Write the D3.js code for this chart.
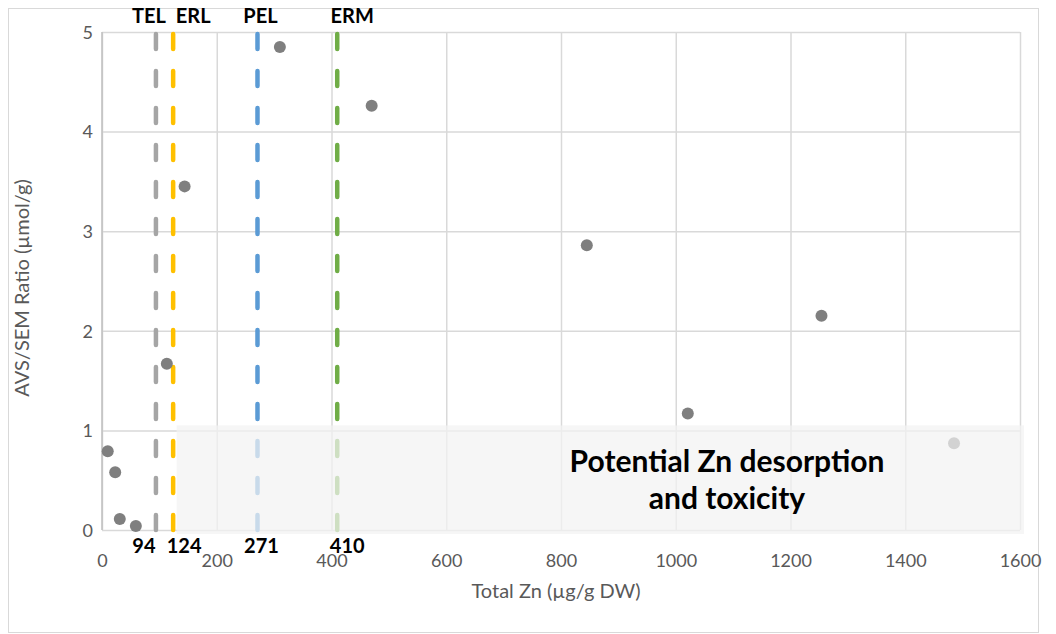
<!DOCTYPE html>
<html>
<head>
<meta charset="utf-8">
<script src="https://cdn.jsdelivr.net/npm/d3@7"></script>
<style>
  html, body { margin: 0; padding: 0; background: #ffffff; }
  svg { display: block; }
</style>
</head>
<body>
<script>
// ---- data ----
const totalZn = [10, 23, 31, 59, 113, 144, 310, 470, 845, 1021, 1254, 1485];
const avsSem  = [0.79, 0.58, 0.11, 0.04, 1.67, 3.45, 4.85, 4.26, 2.86, 1.17, 2.15, 0.87];
const guideNames  = ["TEL", "ERL", "PEL", "ERM"];
const guideValues = [94, 124, 271, 410];
const xTicks = [0, 200, 400, 600, 800, 1000, 1200, 1400, 1600];
const yTicks = [0, 1, 2, 3, 4, 5];
const zoneRange = [130, 1600];      // Zn range of shaded zone
const zoneRatio = [0, 1.05];        // ratio range of shaded zone
const zoneText = ["Potential Zn desorption", "and toxicity"];
const xTitle = "Total Zn (µg/g DW)";
const yTitle = "AVS/SEM Ratio (µmol/g)";

// ---- layout / style ----
const W = 1056, H = 634;
const guideColors = ["#a5a5a5", "#ffc000", "#5b9bd5", "#70ad47"];
const topLabelDx = [-7, 20, 3, 15];
const botLabelDx = [-12, 11, 4, 10];
const font = "Lato, 'Open Sans', sans-serif";

const svg = d3.select("body").append("svg").attr("width", W).attr("height", H);

// outer chart border
svg.append("rect").attr("x", 8.5).attr("y", 8.5).attr("width", 1030).attr("height", 624)
  .attr("fill", "#fff").attr("stroke", "#d9d9d9").attr("stroke-width", 1);

const x = d3.scaleLinear().domain([0, 1600]).range([102, 1020]);
const y = d3.scaleLinear().domain([0, 5]).range([530, 32]);

// gridlines
const gridX = d3.axisBottom(x).tickValues(xTicks).tickSize(-(y(0) - y(5))).tickFormat("");
const gx = svg.append("g").attr("transform", `translate(0,${y(0)})`).call(gridX);
gx.select(".domain").remove();
gx.selectAll("line").attr("stroke", "#d9d9d9").attr("stroke-width", 1.5);

const gridY = d3.axisLeft(y).tickValues(yTicks).tickSize(-(x(1600) - x(0))).tickFormat("");
const gy = svg.append("g").attr("transform", `translate(${x(0)},0)`).call(gridY);
gy.select(".domain").remove();
gy.selectAll("line").attr("stroke", "#d9d9d9").attr("stroke-width", 1.5);

// left axis line
svg.append("line").attr("x1", x(0)).attr("x2", x(0)).attr("y1", y(5)).attr("y2", y(0))
  .attr("stroke", "#bfbfbf").attr("stroke-width", 1.5);

// tick labels
const xAxis = d3.axisBottom(x).tickValues(xTicks).tickSize(0).tickPadding(0).tickFormat(d3.format("d"));
const xa = svg.append("g").attr("transform", `translate(0,${y(0)})`).call(xAxis);
xa.select(".domain").remove();
xa.selectAll("text").attr("dy", null).attr("y", 37).attr("fill", "#595959")
  .style("font-family", font).style("font-size", "18px");

const yAxis = d3.axisLeft(y).tickValues(yTicks).tickSize(0).tickPadding(0).tickFormat(d3.format("d"));
const ya = svg.append("g").attr("transform", `translate(${x(0)},0)`).call(yAxis);
ya.select(".domain").remove();
ya.selectAll("text").attr("x", -9).attr("dy", "0.35em").attr("fill", "#595959")
  .style("font-family", font).style("font-size", "18px");

// guide lines
svg.append("g").selectAll("line").data(guideValues).join("line")
  .attr("x1", d => x(d)).attr("x2", d => x(d))
  .attr("y1", y(5) + 2).attr("y2", y(0))
  .attr("stroke", (d, i) => guideColors[i]).attr("stroke-width", 4.5)
  .attr("stroke-linecap", "round")
  .attr("stroke-dasharray", "15,22");

// points
svg.append("g").selectAll("circle").data(totalZn).join("circle")
  .attr("cx", d => x(d)).attr("cy", (d, i) => y(avsSem[i]))
  .attr("r", 6).attr("fill", "#7f7f7f");

// shaded zone
svg.append("rect")
  .attr("x", x(zoneRange[0])).attr("y", y(zoneRatio[1]))
  .attr("width", x(zoneRange[1]) - x(zoneRange[0]) + 4)
  .attr("height", y(zoneRatio[0]) - y(zoneRatio[1]) + 4)
  .attr("fill", "#f2f2f2").attr("fill-opacity", 0.72);

// zone text
const zt = svg.append("text").attr("x", 727).attr("y", 472)
  .attr("text-anchor", "middle").attr("fill", "#000")
  .style("font-family", font).style("font-weight", "bold").style("font-size", "30px");
zoneText.forEach((t, i) => zt.append("tspan").attr("x", 727).attr("dy", i === 0 ? 0 : 37).text(t));

// guide labels (top names, bottom values)
svg.append("g").selectAll("text").data(guideNames).join("text")
  .attr("x", (d, i) => x(guideValues[i]) + topLabelDx[i]).attr("y", 23)
  .attr("text-anchor", "middle").attr("fill", "#000")
  .style("font-family", font).style("font-weight", "bold").style("font-size", "20px")
  .text(d => d);
svg.append("g").selectAll("text").data(guideValues).join("text")
  .attr("x", (d, i) => x(d) + botLabelDx[i]).attr("y", 553)
  .attr("text-anchor", "middle").attr("fill", "#000")
  .style("font-family", font).style("font-weight", "bold").style("font-size", "20px")
  .text(d => d);

// axis titles
svg.append("text").attr("x", 556).attr("y", 598).attr("text-anchor", "middle")
  .attr("fill", "#595959").style("font-family", font).style("font-size", "20px").text(xTitle);
svg.append("text").attr("transform", `translate(29,${288}) rotate(-90)`).attr("text-anchor", "middle")
  .attr("fill", "#595959").style("font-family", font).style("font-size", "20px").text(yTitle);
</script>
</body>
</html>
